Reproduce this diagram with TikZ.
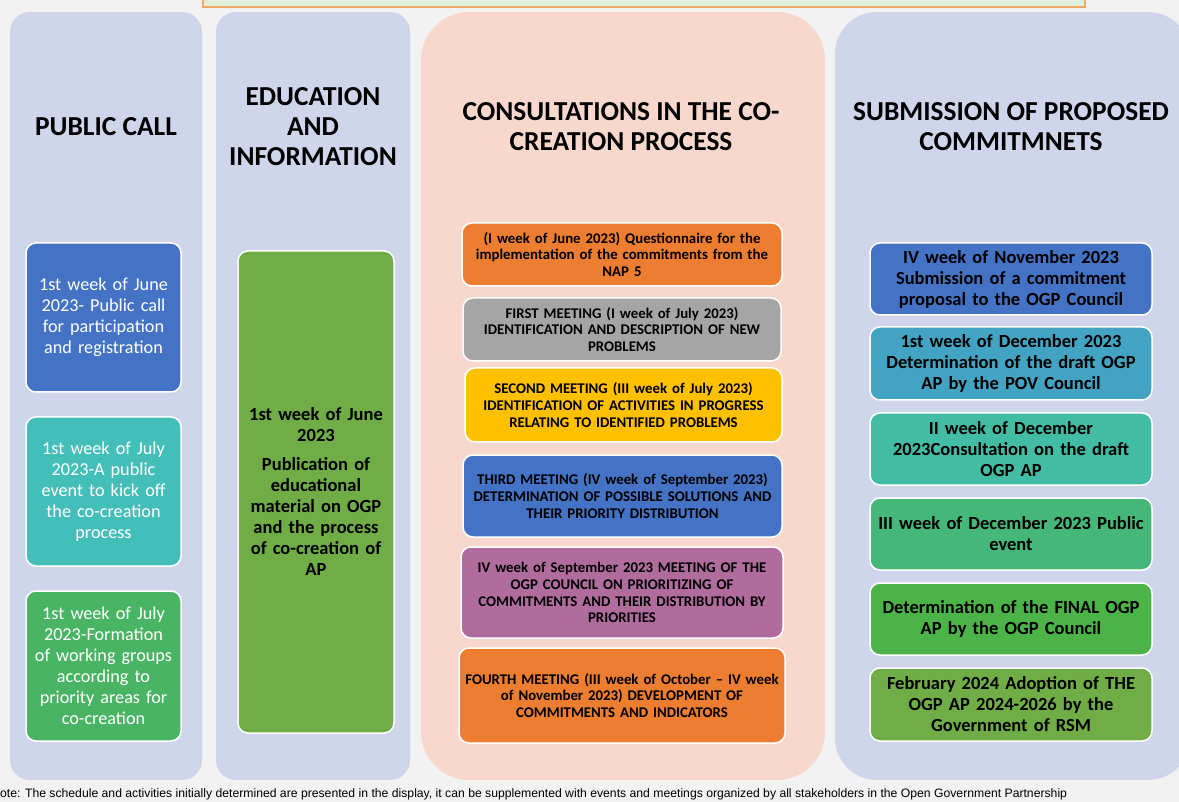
\documentclass[tikz,border=0pt]{standalone}
\usepackage{fontspec}
\setmainfont{Carlito}
\newfontfamily\notefont{Liberation Sans}
\definecolor{pagebg}{HTML}{F2F2F2}
\definecolor{lanelav}{HTML}{CFD5EA}
\definecolor{lanepeach}{HTML}{F8D8CD}
\definecolor{bannerfill}{HTML}{E2EFDA}
\definecolor{bannerline}{HTML}{F0A868}
\definecolor{cblue}{HTML}{4472C4}
\definecolor{cteal}{HTML}{44BEB8}
\definecolor{cgreen}{HTML}{49B564}
\definecolor{colive}{HTML}{70AD47}
\definecolor{corange}{HTML}{ED7D31}
\definecolor{cgray}{HTML}{A5A5A5}
\definecolor{cgold}{HTML}{FFC000}
\definecolor{cpurple}{HTML}{B06C9D}
\definecolor{ccyan}{HTML}{42A3C2}
\definecolor{cseagreen}{HTML}{43BCA4}
\definecolor{cmint}{HTML}{45B779}
\definecolor{cleaf}{HTML}{4CB349}
\tikzset{
  lanebg/.style={draw=none, inner sep=0pt, rounded corners=#1},
  heading/.style={align=center, inner sep=0pt, font=\bfseries\fontsize{27.4}{30}\selectfont},
  evbox/.style={fill=#1, draw=white, line width=1.5pt, rounded corners=10pt,
                align=center, inner sep=0pt},
  bigtext/.style={font=\fontsize{18.2}{21}\selectfont},
  boldtext/.style={font=\bfseries\fontsize{18.5}{21}\selectfont},
  smalltext/.style={font=\bfseries\fontsize{14.8}{16.8}\selectfont},
}
\begin{document}
\begin{tikzpicture}[x=1pt, y=-1pt]
\useasboundingbox (0,0) rectangle (1179,802);
\clip (0,0) rectangle (1179,802);
\fill[pagebg] (0,0) rectangle (1179,802);

% banner strip at the top edge
\node[draw=bannerline, fill=bannerfill, line width=1.5pt, inner sep=0pt,
      minimum width=882pt, minimum height=20pt] (banner) at (644,-3) {};

% lane backgrounds
\node[lanebg=20pt, fill=lanelav, minimum width=192pt, minimum height=768pt] (laneA) at (106,396) {};
\node[lanebg=20pt, fill=lanelav, minimum width=194pt, minimum height=768pt] (laneB) at (313,396) {};
\node[lanebg=48pt, fill=lanepeach, minimum width=404pt, minimum height=768pt] (laneC) at (623,396) {};
\node[lanebg=42pt, fill=lanelav, minimum width=355pt, minimum height=768pt] (laneD) at (1012.5,396) {};

% lane headings
\node[heading] (hA) at (106,127) {PUBLIC CALL};
\node[heading] (hB) at (313,127) {EDUCATION\\AND\\INFORMATION};
\node[heading] (hC) at (621,127) {CONSULTATIONS IN THE CO-\\CREATION PROCESS};
\node[heading] (hD) at (1011,127) {SUBMISSION OF PROPOSED\\COMMITMNETS};

% public call
\node[evbox=cblue, bigtext, text=white, minimum width=155pt, minimum height=149pt, text width=150pt]
  (a1) at (103.5,317.5) {1st week of June\\2023- Public call\\for participation\\and registration};
\node[evbox=cteal, bigtext, text=white, minimum width=155pt, minimum height=149pt, text width=150pt]
  (a2) at (103.5,491.5) {1st week of July\\2023-A public\\event to kick off\\the co-creation\\process};
\node[evbox=cgreen, bigtext, text=white, minimum width=155pt, minimum height=150pt, text width=150pt]
  (a3) at (103.5,666) {1st week of July\\2023-Formation\\of working groups\\according to\\priority areas for\\co-creation};

% education and information
\node[evbox=colive, boldtext, text=black, minimum width=156pt, minimum height=482pt, text width=150pt]
  (b1) at (316,492) {1st week of June\\2023\\[8pt]Publication of\\educational\\material on OGP\\and the process\\of co-creation of\\AP};

% consultations
\node[evbox=corange, smalltext, minimum width=320pt, minimum height=63pt, text width=316pt]
  (c1) at (622,254.5) {(I week of June 2023) Questionnaire for the\\implementation of the commitments from the\\NAP 5};
\node[evbox=cgray, smalltext, minimum width=318pt, minimum height=63pt, text width=314pt]
  (c2) at (622,329.5) {FIRST MEETING (I week of July 2023)\\IDENTIFICATION AND DESCRIPTION OF NEW\\PROBLEMS};
\node[evbox=cgold, smalltext, minimum width=317pt, minimum height=74pt, text width=313pt]
  (c3) at (623.5,405) {SECOND MEETING (III week of July 2023)\\IDENTIFICATION OF ACTIVITIES IN PROGRESS\\RELATING TO IDENTIFIED PROBLEMS};
\node[evbox=cblue, smalltext, minimum width=319pt, minimum height=82pt, text width=315pt]
  (c4) at (622.5,496) {THIRD MEETING (IV week of September 2023)\\DETERMINATION OF POSSIBLE SOLUTIONS AND\\THEIR PRIORITY DISTRIBUTION};
\node[evbox=cpurple, smalltext, minimum width=322pt, minimum height=91pt, text width=318pt]
  (c5) at (622,592.5) {IV week of September 2023 MEETING OF THE\\OGP COUNCIL ON PRIORITIZING OF\\COMMITMENTS AND THEIR DISTRIBUTION BY\\PRIORITIES};
\node[evbox=corange, smalltext, minimum width=326pt, minimum height=95pt, text width=322pt]
  (c6) at (622,695.5) {FOURTH MEETING (III week of October -- IV week\\of November 2023) DEVELOPMENT OF\\COMMITMENTS AND INDICATORS};

% submission of proposed commitments
\node[evbox=cblue, boldtext, minimum width=282pt, minimum height=72pt, text width=276pt]
  (d1) at (1011,279) {IV week of November 2023\\Submission of a commitment\\proposal to the OGP Council};
\node[evbox=ccyan, boldtext, minimum width=282pt, minimum height=73pt, text width=276pt]
  (d2) at (1011,363.5) {1st week of December 2023\\Determination of the draft OGP\\AP by the POV Council};
\node[evbox=cseagreen, boldtext, minimum width=282pt, minimum height=72pt, text width=276pt]
  (d3) at (1011,449) {II week of December\\2023Consultation on the draft\\OGP AP};
\node[evbox=cmint, boldtext, minimum width=282pt, minimum height=72pt, text width=276pt]
  (d4) at (1011,534) {III week of December 2023 Public\\event};
\node[evbox=cleaf, boldtext, minimum width=282pt, minimum height=72pt, text width=276pt]
  (d5) at (1011,619) {Determination of the FINAL OGP\\AP by the OGP Council};
\node[evbox=colive, boldtext, minimum width=282pt, minimum height=73pt, text width=276pt]
  (d6) at (1011,704.5) {February 2024 Adoption of THE\\OGP AP 2024-2026 by the\\Government of RSM};

% footnote along the bottom edge
\node[anchor=base west, inner sep=0pt, font=\notefont\fontsize{12.2}{14}\selectfont]
  (note) at (0,797) {ote: The schedule and activities initially determined are presented in the display, it can be supplemented with events and meetings organized by all stakeholders in the Open Government Partnership};
\end{tikzpicture}
\end{document}
